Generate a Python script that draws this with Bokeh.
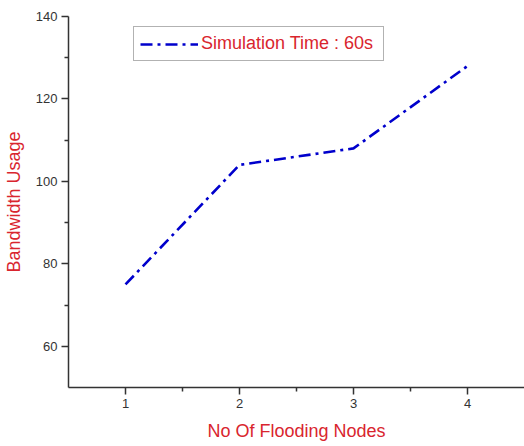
from bokeh.plotting import figure
from bokeh.models import Range1d, FixedTicker, Legend, LegendItem
from bokeh.embed import file_html
from bokeh.resources import INLINE

# Data
flooding_nodes = [1, 2, 3, 4]
bandwidth_usage = [75, 104, 108, 128]
series_label = "Simulation Time : 60s"
x_title = "No Of Flooding Nodes"
y_title = "Bandwidth Usage"
x_ticks = [1, 2, 3, 4]
x_minor_ticks = [1.5, 2.5, 3.5]
y_ticks = [60, 80, 100, 120, 140]
y_minor_ticks = [70, 90, 110, 130]

FONT = "Liberation Sans"
RED = "#d9252e"
AXIS = "#333333"

p = figure(width=524, height=446, output_backend="svg", toolbar_location=None,
           x_range=Range1d(0.5, 4.5), y_range=Range1d(50, 140),
           min_border_left=68, min_border_right=0, min_border_top=16,
           min_border_bottom=59)
p.outline_line_color = None
p.xgrid.visible = False
p.ygrid.visible = False

r = p.line(flooding_nodes, bandwidth_usage, line_color="#0000cc", line_width=2.6,
           line_dash="12 5 3 5")

for ax in (p.xaxis[0], p.yaxis[0]):
    ax.axis_line_color = AXIS
    ax.axis_line_width = 1.5
    ax.major_tick_line_color = AXIS
    ax.minor_tick_line_color = AXIS
    ax.major_tick_line_width = 1.5
    ax.minor_tick_line_width = 1.5
    ax.major_tick_in = 0
    ax.major_tick_out = 7
    ax.minor_tick_in = 0
    ax.minor_tick_out = 4
    ax.major_label_text_font = FONT
    ax.major_label_text_font_size = "13px"
    ax.major_label_text_color = AXIS
    ax.major_label_standoff = 4
    ax.axis_label_text_font = FONT
    ax.axis_label_text_font_size = "18px"
    ax.axis_label_text_font_style = "normal"
    ax.axis_label_text_color = RED

p.xaxis[0].ticker = FixedTicker(ticks=x_ticks, minor_ticks=x_minor_ticks)
p.yaxis[0].ticker = FixedTicker(ticks=y_ticks, minor_ticks=y_minor_ticks)
p.xaxis[0].axis_label = x_title
p.yaxis[0].axis_label = y_title
p.xaxis[0].axis_label_standoff = 10
p.yaxis[0].axis_label_standoff = 9

legend = Legend(items=[LegendItem(label=series_label, renderers=[r])],
                location=(65, 326), margin=0, padding=6, spacing=0,
                glyph_width=58, glyph_height=20, label_standoff=3,
                label_width=176,
                label_text_font=FONT, label_text_font_size="18px",
                label_text_color=RED, border_line_color="#666666",
                border_line_width=1.2, background_fill_color="white",
                background_fill_alpha=1.0)
p.add_layout(legend, "center")

open("out.html", "w").write(file_html(p, INLINE))
